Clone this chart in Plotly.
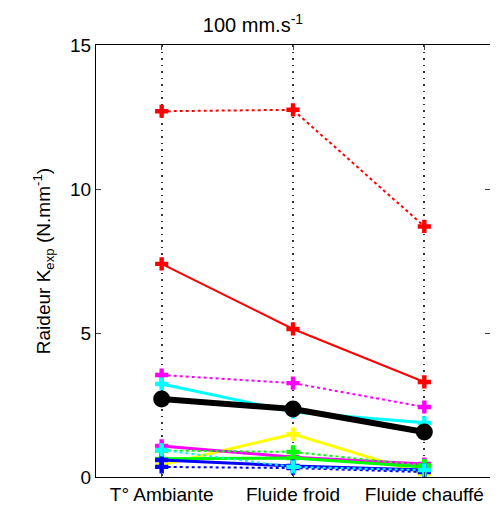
import plotly.graph_objects as go

categories = ["T° Ambiante", "Fluide froid", "Fluide chauffé"]
x_pos = [1, 2, 3]

red_dot = [12.7, 12.75, 8.7]
red_solid = [7.4, 5.14, 3.3]
magenta_dot = [3.54, 3.26, 2.43]
cyan_solid = [3.23, 2.26, 1.88]
black_mean = [2.71, 2.36, 1.56]
yellow_solid = [0.42, 1.49, 0.1]
magenta_solid = [1.08, 0.69, 0.45]
green_dot = [0.92, 0.87, 0.4]
cyan_dot = [0.94, 0.35, 0.24]
green_solid = [0.63, 0.66, 0.35]
blue_solid = [0.59, 0.38, 0.24]
blue_dot = [0.35, 0.31, 0.17]

series = [
    (red_dot, "#ff0000", "dot", 2),
    (red_solid, "#ff0000", "solid", 2),
    (magenta_dot, "#ff00ff", "dot", 2),
    (cyan_solid, "#00ffff", "solid", 3),
    (yellow_solid, "#ffff00", "solid", 3),
    (magenta_solid, "#ff00ff", "solid", 3),
    (green_dot, "#00ff00", "dot", 2),
    (green_solid, "#00ff00", "solid", 3),
    (blue_solid, "#0000ff", "solid", 3),
    (blue_dot, "#0000ff", "dot", 2),
    (cyan_dot, "#00ffff", "dot", 2),
]

fig = go.Figure()
for vals, col, dash, w in series:
    fig.add_trace(go.Scatter(
        x=x_pos, y=vals, mode="lines+markers",
        line=dict(color=col, dash=dash, width=w),
        marker=dict(symbol="cross", size=11, color=col),
        showlegend=False))

fig.add_trace(go.Scatter(
    x=x_pos, y=black_mean, mode="lines+markers",
    line=dict(color="black", width=6),
    marker=dict(symbol="circle", size=17, color="black"),
    showlegend=False))

font = "Liberation Sans, Arial, sans-serif"
fig.update_layout(
    width=490, height=499,
    margin=dict(l=88, r=8, t=37, b=30),
    paper_bgcolor="white", plot_bgcolor="white",
    font=dict(family=font, size=19, color="black"),
    title=dict(text="100 mm.s<sup>-1</sup>", x=0.5, xanchor="center",
               y=0.965, yanchor="middle", font=dict(size=20)),
    xaxis=dict(range=[0.5, 3.5], tickmode="array", tickvals=x_pos,
               ticktext=categories, showgrid=True, gridcolor="#333333",
               griddash="1.5px,5px", gridwidth=1.5, ticks="inside", ticklen=5,
               showline=True, linecolor="black", linewidth=1, mirror="ticks",
               zeroline=False, tickfont=dict(size=19), automargin=False),
    yaxis=dict(range=[0, 15], tickvals=[0, 5, 10, 15], showgrid=False,
               ticks="inside", ticklen=5, showline=True, linecolor="black",
               linewidth=1, mirror="ticks", zeroline=False,
               tickfont=dict(size=19), automargin=False,
               title=dict(text="Raideur K<sub>exp</sub> (N.mm<sup>-1</sup>)",
                          font=dict(size=19), standoff=14)),
)

fig.write_html("out.html")
